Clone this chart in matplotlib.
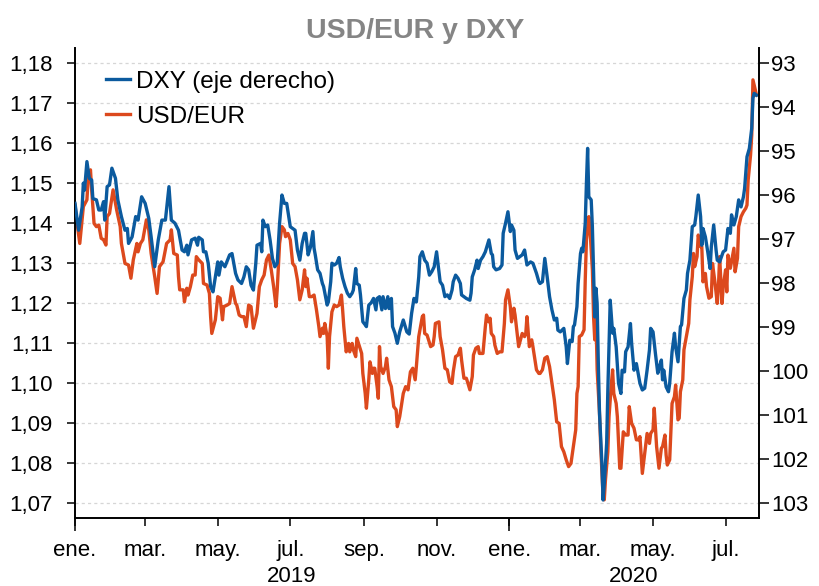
import numpy as np
import pandas as pd
import matplotlib
matplotlib.use('Agg')
import matplotlib.pyplot as plt
import matplotlib.dates as mdates
from matplotlib.ticker import FuncFormatter

plt.rcParams['font.family'] = ['Liberation Sans', 'DejaVu Sans']

start = pd.Timestamp('2019-01-01')
end = pd.Timestamp('2020-07-29')

# days since 2019-01-01
usd_days = [0, 1, 4, 7, 10, 11, 13, 14, 16, 18, 20, 22, 24, 26, 27, 29, 32, 35, 38, 39,
            42, 45, 47, 49, 52, 53, 55, 57, 60, 62, 64, 67, 69, 71, 74, 77, 80, 81, 83, 86,
            87, 88, 91, 92, 94, 95, 97, 99, 101, 102, 104, 107, 108, 111, 113, 114, 115, 118, 120, 122,
            124, 125, 128, 130, 132, 135, 136, 138, 140, 142, 144, 146, 148, 150, 153, 155, 157, 159, 161, 163,
            165, 167, 169, 170, 172, 174, 176, 177, 179, 181, 183, 185, 187, 189, 191, 193, 194, 195, 197, 199,
            201, 203, 205, 206, 208, 209, 210, 212, 213, 214, 216, 218, 220, 222, 224, 225, 226, 228, 230, 231,
            233, 234, 236, 237, 240, 241, 242, 244, 245, 247, 248, 250, 251, 252, 254, 255, 256, 257, 259, 261,
            262, 264, 266, 268, 270, 271, 273, 276, 278, 280, 282, 284, 286, 287, 289, 292, 293, 294, 296, 299,
            301, 302, 303, 306, 307, 309, 311, 313, 315, 317, 318, 320, 322, 324, 325, 327, 329, 330, 332, 334,
            335, 337, 339, 340, 343, 345, 346, 348, 349, 350, 352, 353, 355, 357, 359, 361, 362, 364, 366, 367,
            369, 370, 372, 373, 376, 378, 379, 380, 382, 384, 385, 388, 390, 391, 393, 395, 397, 399, 401, 403,
            405, 407, 409, 411, 413, 415, 417, 419, 421, 422, 423, 424, 426, 428, 429, 430, 432, 433, 435, 436,
            437, 438, 439, 441, 442, 444, 445, 446, 448, 449, 451, 452, 453, 455, 456, 458, 459, 461, 463, 465,
            466, 468, 470, 472, 474, 475, 477, 479, 481, 483, 484, 486, 487, 489, 491, 493, 494, 496, 497, 498,
            500, 502, 504, 505, 507, 508, 509, 511, 512, 514, 516, 517, 519, 520, 521, 523, 524, 526, 527, 528,
            530, 531, 533, 535, 536, 538, 540, 541, 542, 544, 545, 547, 548, 549, 551, 554, 555, 557, 558, 560,
            562, 564, 565, 566, 568, 569, 570, 572, 573]
usd_vals = [1.1445, 1.1416, 1.1349, 1.1441, 1.1458, 1.1508, 1.1533, 1.1483, 1.1399, 1.1391,
            1.1395, 1.1362, 1.1358, 1.1345, 1.1416, 1.1424, 1.1483, 1.1433, 1.1391, 1.1349,
            1.1299, 1.1295, 1.1262, 1.1308, 1.1349, 1.1328, 1.1349, 1.1358, 1.1408, 1.1383,
            1.1324, 1.1266, 1.1224, 1.1291, 1.1303, 1.1349, 1.1358, 1.1383, 1.1324, 1.1320,
            1.1266, 1.1233, 1.1233, 1.1203, 1.1237, 1.1220, 1.1241, 1.1270, 1.1270, 1.1316,
            1.1308, 1.1299, 1.1249, 1.1245, 1.1224, 1.1166, 1.1124, 1.1158, 1.1216, 1.1212,
            1.1158, 1.1191, 1.1195, 1.1199, 1.1241, 1.1199, 1.1195, 1.1170, 1.1166, 1.1166,
            1.1141, 1.1195, 1.1191, 1.1137, 1.1174, 1.1241, 1.1258, 1.1270, 1.1308, 1.1320,
            1.1283, 1.1241, 1.1191, 1.1233, 1.1349, 1.1391, 1.1383, 1.1366, 1.1374, 1.1358,
            1.1299, 1.1291, 1.1258, 1.1208, 1.1233, 1.1283, 1.1241, 1.1262, 1.1216, 1.1216,
            1.1220, 1.1183, 1.1141, 1.1116, 1.1137, 1.1124, 1.1149, 1.1116, 1.1037, 1.1116,
            1.1178, 1.1195, 1.1191, 1.1195, 1.1220, 1.1183, 1.1141, 1.1078, 1.1099, 1.1078,
            1.1099, 1.1083, 1.1066, 1.1112, 1.1083, 1.1074, 1.1024, 1.0974, 1.0937, 1.1008,
            1.1053, 1.1024, 1.1037, 1.1037, 1.0991, 1.0962, 1.1091, 1.1041, 1.1024, 1.1041,
            1.1062, 1.1008, 1.0991, 1.0941, 1.0933, 1.0891, 1.0916, 1.0974, 1.0991, 1.0983,
            1.1028, 1.1037, 1.1008, 1.1041, 1.1116, 1.1166, 1.1170, 1.1124, 1.1120, 1.1091,
            1.1095, 1.1116, 1.1149, 1.1153, 1.1116, 1.1083, 1.1037, 1.1033, 1.1003, 1.0999,
            1.1028, 1.1066, 1.1070, 1.1087, 1.1058, 1.1012, 1.1012, 1.1003, 1.0983, 1.1016,
            1.1070, 1.1087, 1.1091, 1.1074, 1.1074, 1.1141, 1.1170, 1.1153, 1.1162, 1.1124,
            1.1116, 1.1095, 1.1074, 1.1078, 1.1078, 1.1149, 1.1208, 1.1233, 1.1191, 1.1153,
            1.1187, 1.1170, 1.1116, 1.1091, 1.1124, 1.1116, 1.1124, 1.1166, 1.1091, 1.1108,
            1.1091, 1.1033, 1.1024, 1.1024, 1.1033, 1.1062, 1.1066, 1.1041, 1.0999, 1.0958,
            1.0903, 1.0899, 1.0841, 1.0828, 1.0808, 1.0791, 1.0799, 1.0841, 1.0883, 1.0974,
            1.0991, 1.1116, 1.1120, 1.1133, 1.1258, 1.1358, 1.1416, 1.1383, 1.1283, 1.1166,
            1.1108, 1.1166, 1.1033, 1.0924, 1.0841, 1.0716, 1.0708, 1.0758, 1.0828, 1.0916,
            1.0999, 1.1033, 1.0974, 1.0949, 1.0916, 1.0787, 1.0787, 1.0878, 1.0870, 1.0870,
            1.0941, 1.0899, 1.0887, 1.0858, 1.0858, 1.0866, 1.0774, 1.0824, 1.0874, 1.0849,
            1.0874, 1.0883, 1.0937, 1.0841, 1.0787, 1.0837, 1.0841, 1.0870, 1.0820, 1.0795,
            1.0808, 1.0949, 1.0966, 1.0995, 1.0908, 1.0912, 1.0978, 1.1008, 1.1083, 1.1116,
            1.1149, 1.1208, 1.1266, 1.1324, 1.1291, 1.1316, 1.1370, 1.1341, 1.1341, 1.1253,
            1.1274, 1.1241, 1.1212, 1.1216, 1.1299, 1.1253, 1.1199, 1.1241, 1.1316, 1.1199,
            1.1241, 1.1283, 1.1228, 1.1320, 1.1287, 1.1337, 1.1278, 1.1312, 1.1391, 1.1416,
            1.1428, 1.1437, 1.1445, 1.1508, 1.1570, 1.1620, 1.1758, 1.1733, 1.1720]

dxy_days = [0, 3, 6, 7, 8, 10, 12, 14, 15, 18, 20, 22, 24, 25, 27, 29, 31, 34, 36, 39,
            42, 44, 45, 48, 51, 53, 56, 59, 62, 64, 67, 70, 73, 76, 79, 81, 84, 87, 90, 92,
            94, 95, 98, 101, 103, 104, 107, 108, 110, 112, 114, 116, 118, 120, 121, 123, 126, 130, 132, 133,
            135, 137, 140, 142, 144, 146, 148, 150, 152, 153, 156, 157, 158, 160, 162, 164, 166, 168, 170, 172,
            174, 176, 178, 181, 183, 185, 187, 189, 191, 193, 194, 196, 198, 200, 201, 202, 204, 206, 208, 209,
            212, 213, 215, 216, 218, 220, 222, 223, 225, 227, 229, 231, 233, 234, 236, 237, 239, 240, 242, 244,
            245, 247, 249, 251, 253, 254, 256, 258, 259, 261, 263, 264, 266, 267, 269, 271, 273, 276, 279, 281,
            283, 285, 287, 289, 290, 292, 294, 296, 298, 300, 302, 304, 305, 307, 309, 311, 313, 315, 317, 318,
            320, 322, 324, 325, 327, 329, 332, 333, 334, 336, 338, 339, 341, 343, 345, 348, 350, 351, 352, 354,
            357, 359, 360, 362, 364, 366, 367, 369, 370, 372, 374, 376, 378, 380, 383, 385, 388, 390, 391, 393,
            395, 397, 399, 401, 403, 405, 406, 408, 411, 413, 414, 416, 418, 419, 420, 422, 423, 425, 426, 427,
            429, 430, 431, 432, 434, 435, 436, 437, 438, 439, 440, 441, 443, 444, 445, 447, 448, 450, 452, 453,
            455, 457, 459, 460, 462, 463, 465, 467, 468, 470, 472, 475, 477, 479, 481, 483, 484, 486, 488, 490,
            491, 493, 494, 495, 497, 499, 500, 502, 504, 505, 507, 509, 510, 512, 514, 515, 517, 519, 521, 522,
            524, 526, 527, 528, 530, 532, 534, 535, 537, 539, 540, 542, 545, 547, 549, 551, 552, 554, 556, 558,
            560, 562, 563, 565, 567, 569, 570, 571, 573]
dxy_vals = [96.19, 96.80, 96.27, 95.73, 95.89, 95.24, 95.62, 95.66, 96.08, 96.11,
            96.34, 96.34, 96.15, 96.57, 95.81, 95.77, 95.39, 95.62, 96.11, 96.49,
            96.80, 96.76, 97.10, 96.95, 96.49, 96.57, 96.04, 96.19, 96.53, 96.95,
            97.63, 97.02, 96.57, 96.57, 95.81, 96.57, 96.64, 96.80, 97.25, 97.29,
            97.14, 97.36, 97.02, 96.98, 97.14, 96.96, 97.02, 97.29, 97.29, 97.55,
            98.08, 98.20, 97.86, 97.52, 97.82, 97.52, 97.63, 97.36, 97.33, 97.48,
            97.78, 97.93, 98.01, 97.86, 97.63, 97.70, 98.05, 98.16, 97.55, 97.14,
            97.10, 97.29, 96.57, 96.72, 96.68, 97.02, 97.44, 97.63, 97.55, 96.64,
            96.00, 96.19, 96.19, 96.72, 96.76, 96.80, 97.25, 97.48, 97.10, 96.87,
            96.87, 97.36, 97.18, 96.83, 97.21, 97.36, 97.70, 97.78, 98.01, 98.08,
            98.50, 98.43, 97.97, 97.55, 97.59, 97.55, 97.42, 97.63, 97.89, 98.08,
            98.23, 98.31, 98.23, 98.16, 97.67, 98.01, 98.05, 98.27, 98.88, 98.95,
            98.99, 98.50, 98.45, 98.35, 98.61, 98.35, 98.31, 98.61, 98.31, 98.58,
            98.31, 98.58, 98.35, 98.99, 99.14, 99.37, 99.11, 98.84, 99.11, 99.16,
            98.69, 98.35, 98.43, 97.86, 97.40, 97.29, 97.48, 97.55, 97.82, 97.74,
            97.63, 97.29, 97.52, 97.97, 98.05, 98.31, 98.27, 98.35, 98.16, 97.97,
            97.82, 97.89, 98.01, 98.27, 98.31, 98.35, 98.39, 98.23, 97.86, 97.70,
            97.48, 97.67, 97.48, 97.40, 97.29, 97.02, 97.33, 97.36, 97.63, 97.70,
            97.67, 97.59, 96.87, 96.64, 96.38, 96.83, 96.68, 96.80, 97.25, 97.44,
            97.40, 97.36, 97.25, 97.59, 97.52, 97.55, 97.78, 97.97, 98.01, 97.97,
            97.44, 97.86, 98.31, 98.61, 98.84, 98.80, 99.07, 99.11, 99.03, 99.45,
            99.83, 99.30, 99.33, 98.99, 98.95, 98.54, 98.01, 97.33, 97.21, 97.29,
            96.64, 95.73, 94.94, 96.04, 96.11, 96.72, 97.78, 98.77, 98.12, 98.46,
            99.83, 100.96, 102.10, 102.93, 102.55, 101.64, 100.43, 98.39, 99.14, 99.03,
            99.45, 100.28, 100.51, 99.98, 100.02, 99.56, 99.45, 98.92, 99.37, 99.98,
            99.83, 100.28, 100.43, 100.39, 99.98, 99.52, 99.03, 99.11, 99.60, 100.05,
            99.94, 99.75, 100.20, 99.98, 100.36, 100.47, 100.28, 99.56, 99.14, 99.45,
            99.79, 98.99, 98.95, 98.35, 98.16, 97.78, 97.48, 96.72, 96.68, 96.49,
            96.00, 96.49, 97.14, 96.76, 96.95, 97.29, 97.67, 97.18, 96.68, 97.25,
            97.48, 97.52, 97.29, 97.25, 96.76, 96.87, 96.45, 96.68, 96.49, 96.11,
            96.27, 96.04, 95.85, 95.13, 94.94, 94.48, 93.80, 93.69, 93.73]

month_names = ['ene.', 'feb.', 'mar.', 'abr.', 'may.', 'jun.',
               'jul.', 'ago.', 'sep.', 'oct.', 'nov.', 'dic.']
years = [2019, 2020]

usd_dates = start + pd.to_timedelta(usd_days, unit='D')
dxy_dates = start + pd.to_timedelta(dxy_days, unit='D')

blue = '#0b5a9e'
orange = '#dc491d'
fs = 16

fig = plt.figure(figsize=(8.19, 5.86), dpi=100)
ax1 = fig.add_axes([0.0916, 0.116, 0.835, 0.802])
ax2 = ax1.twinx()

l_usd, = ax1.plot(usd_dates, usd_vals, color=orange, lw=2.4, label='USD/EUR')
l_dxy, = ax2.plot(dxy_dates, dxy_vals, color=blue, lw=2.4, label='DXY (eje derecho)')

ax1.set_xlim(start, end)
ax1.set_ylim(1.06625, 1.18375)
ax2.set_ylim(103.34, 92.66)

ax1.set_yticks(np.arange(1.07, 1.1801, 0.01))
ax1.yaxis.set_major_formatter(FuncFormatter(lambda v, p: f'{v:.2f}'.replace('.', ',')))
ax2.set_yticks(range(93, 104))

ax1.set_axisbelow(True)
ax1.grid(axis='y', color='#d6d6d6', linestyle=(0, (2.5, 2.5)), linewidth=0.9)

ax1.xaxis.set_major_locator(mdates.MonthLocator(bymonth=[1, 3, 5, 7, 9, 11]))
ax1.xaxis.set_major_formatter(FuncFormatter(lambda v, p: month_names[mdates.num2date(v).month - 1]))
ax1.xaxis.set_minor_locator(mdates.YearLocator())
ax1.xaxis.remove_overlapping_locs = False

for sp in ['top', 'right']:
    ax1.spines[sp].set_visible(False)
for sp in ['top', 'left', 'bottom']:
    ax2.spines[sp].set_visible(False)
for sp in [ax1.spines['left'], ax1.spines['bottom'], ax2.spines['right']]:
    sp.set_linewidth(1.4)
    sp.set_color('black')

ax1.tick_params(axis='y', length=6, width=1.1, pad=10, labelsize=fs)
ax1.tick_params(axis='x', which='major', length=6, width=1.1, pad=10, labelsize=fs)
ax1.tick_params(axis='x', which='minor', length=9, width=1.1)
ax2.tick_params(axis='y', length=7, width=1.1, pad=2, labelsize=fs)

# year labels centred over the visible part of each year
for yr in years:
    y0 = max(pd.Timestamp(f'{yr}-01-01'), start)
    y1 = min(pd.Timestamp(f'{yr + 1}-01-01'), end)
    ax1.text(y0 + (y1 - y0) / 2, -0.125, str(yr), transform=ax1.get_xaxis_transform(),
             ha='center', va='center', fontsize=fs)

ax2.legend(handles=[l_dxy, l_usd], loc='upper left', bbox_to_anchor=(0.045, 0.952),
           frameon=False, fontsize=17.5, handlelength=1.0, handletextpad=0.25,
           borderpad=0, borderaxespad=0, labelspacing=0.55)

fig.text(0.507, 0.947, 'USD/EUR y DXY', ha='center', va='center', fontsize=20.5,
         fontweight='bold', color='#858585')

fig.savefig('out.png', dpi=100)
